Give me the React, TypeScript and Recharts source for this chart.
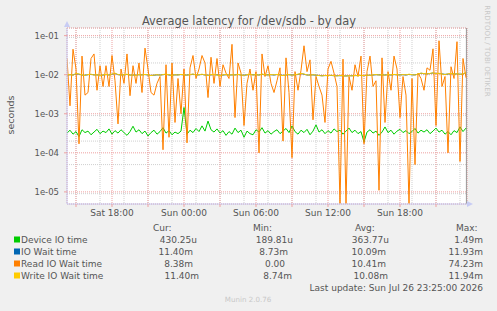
import { LineChart, Line, XAxis, YAxis, CartesianGrid, ReferenceLine } from 'recharts';

// Sat 14:15 .. Sun 23:35, hours counted from Sat 00:00, one sample every 15 min
const START_HOUR = 14.25;
const STEP_HOURS = 0.25;
const END_HOUR = 47.583;
const Y_DOMAIN: [number, number] = [4.9e-6, 0.157];

const DEVICE_IO_TIME = [
  3.2e-4, 3.8e-4, 3.0e-4, 3.5e-4, 2.6e-4, 3.9e-4, 3.3e-4, 3.6e-4, 2.9e-4, 3.4e-4,
  4.0e-4, 3.1e-4, 3.6e-4, 3.3e-4, 4.1e-4, 3.0e-4, 3.7e-4, 3.2e-4, 3.9e-4, 3.3e-4,
  2.8e-4, 3.5e-4, 4.8e-4, 3.4e-4, 3.9e-4, 3.1e-4, 3.6e-4, 2.7e-4, 3.3e-4, 3.8e-4,
  3.0e-4, 3.5e-4, 4.4e-4, 3.2e-4, 3.7e-4, 2.9e-4, 3.4e-4, 3.1e-4, 3.6e-4, 1.45e-3,
  3.0e-4, 3.8e-4, 3.3e-4, 4.2e-4, 3.5e-4, 4.9e-4, 3.6e-4, 6.5e-4, 3.9e-4, 3.4e-4,
  4.1e-4, 3.2e-4, 3.7e-4, 2.8e-4, 3.5e-4, 3.0e-4, 4.3e-4, 3.3e-4, 3.8e-4, 2.5e-4,
  3.6e-4, 3.1e-4, 2.9e-4, 3.9e-4, 3.4e-4, 4.4e-4, 3.2e-4, 3.7e-4, 3.0e-4, 3.5e-4,
  3.9e-4, 3.1e-4, 3.6e-4, 4.2e-4, 3.3e-4, 4.9e-4, 3.5e-4, 3.0e-4, 3.8e-4, 3.3e-4,
  4.0e-4, 2.9e-4, 3.6e-4, 5.2e-4, 3.4e-4, 3.9e-4, 3.1e-4, 3.7e-4, 3.2e-4, 4.1e-4,
  3.5e-4, 3.8e-4, 3.0e-4, 3.6e-4, 4.3e-4, 3.3e-4, 3.8e-4, 3.1e-4, 3.5e-4, 1.9e-4,
  3.4e-4, 3.9e-4, 3.2e-4, 3.6e-4, 2.8e-4, 3.4e-4, 4.6e-4, 3.3e-4, 3.8e-4, 3.0e-4,
  3.6e-4, 4.0e-4, 3.3e-4, 3.7e-4, 3.1e-4, 3.5e-4, 4.2e-4, 3.2e-4, 3.8e-4, 3.4e-4,
  3.9e-4, 3.1e-4, 3.6e-4, 4.3e-4, 3.4e-4, 3.8e-4, 3.0e-4, 3.5e-4, 2.9e-4, 3.7e-4,
  3.3e-4, 4.6e-4, 3.5e-4, 4.3e-4,
];

const IO_WAIT_TIME = [
  0.0097, 0.0100, 0.0098, 0.0106, 0.0103, 0.0098, 0.0097, 0.0100, 0.0102, 0.0099,
  0.0099, 0.0096, 0.0098, 0.0101, 0.0098, 0.0103, 0.0108, 0.0100, 0.0099, 0.0099,
  0.0102, 0.0098, 0.0098, 0.0097, 0.0100, 0.0099, 0.0101, 0.0098, 0.0096, 0.0097,
  0.0099, 0.0098, 0.0100, 0.0103, 0.0098, 0.0097, 0.0099, 0.0099, 0.0101, 0.0098,
  0.0098, 0.0100, 0.0103, 0.0099, 0.0099, 0.0102, 0.0098, 0.0097, 0.0099, 0.0101,
  0.0099, 0.0096, 0.0098, 0.0100, 0.0098, 0.0099, 0.0099, 0.0101, 0.0098, 0.0097,
  0.0099, 0.0102, 0.0099, 0.0100, 0.0098, 0.0103, 0.0099, 0.0099, 0.0100, 0.0098,
  0.0101, 0.0099, 0.0096, 0.0098, 0.0100, 0.0098, 0.0099, 0.0102, 0.0107, 0.0103,
  0.0098, 0.0098, 0.0099, 0.0097, 0.0096, 0.0094, 0.0095, 0.0095, 0.0096, 0.0094,
  0.0094, 0.0095, 0.0093, 0.0093, 0.0094, 0.0094, 0.0095, 0.0095, 0.0096, 0.0094,
  0.0097, 0.0097, 0.0098, 0.0100, 0.0099, 0.0099, 0.0098, 0.0100, 0.0098, 0.0101,
  0.0099, 0.0099, 0.0100, 0.0098, 0.0102, 0.0099, 0.0099, 0.0103, 0.0109, 0.0106,
  0.0105, 0.0107, 0.0111, 0.0107, 0.0108, 0.0105, 0.0102, 0.0104, 0.0107, 0.0104,
  0.0105, 0.0103, 0.0104, 0.0114,
];

const READ_IO_WAIT_TIME = [
  0.026, 0.0016, 0.045, 0.014, 1.7e-4, 0.03, 0.003, 0.0035, 0.026, 0.034,
  0.004, 0.017, 0.005, 0.017, 0.005, 0.031, 0.007, 5.5e-4, 0.014, 0.006,
  0.034, 0.0029, 0.017, 0.006, 0.02, 0.0035, 0.048, 0.014, 0.0035, 0.003,
  0.006, 0.009, 1.2e-4, 0.018, 2.5e-4, 0.02, 6e-4, 0.008, 1e-3, 0.014,
  1.8e-4, 0.015, 0.031, 0.008, 0.014, 0.031, 0.02, 0.0026, 0.028, 0.006,
  0.026, 0.005, 0.018, 0.011, 0.008, 0.06, 8e-4, 0.02, 0.011, 5e-4,
  0.006, 0.014, 0.004, 0.012, 1e-4, 0.034, 0.009, 0.017, 0.006, 0.0035,
  0.007, 0.015, 2e-4, 0.027, 0.0035, 7.5e-5, 0.012, 0.004, 0.013, 0.055,
  0.012, 0.024, 7e-4, 0.009, 0.005, 0.003, 6e-4, 0.014, 0.022, 0.011,
  0.005, 5e-6, 0.025, 5e-6, 0.009, 0.004, 0.018, 0.009, 0.03, 1.7e-4,
  0.012, 0.03, 0.005, 0.007, 1.1e-5, 0.027, 6e-4, 0.012, 0.004, 0.03,
  0.014, 8e-4, 0.009, 0.003, 5e-6, 0.008, 5e-5, 0.011, 0.008, 0.004,
  0.015, 0.013, 0.046, 5e-4, 0.074, 0.005, 0.009, 1e-4, 0.016, 0.008,
  0.07, 6e-5, 0.026, 0.0084,
];

const WRITE_IO_WAIT_TIME = [
  0.0098, 0.0101, 0.0097, 0.0108, 0.0104, 0.0099, 0.0096, 0.0101, 0.0103, 0.0098,
  0.0100, 0.0095, 0.0099, 0.0102, 0.0097, 0.0104, 0.0110, 0.0101, 0.0098, 0.0100,
  0.0103, 0.0097, 0.0099, 0.0096, 0.0101, 0.0098, 0.0102, 0.0099, 0.0095, 0.0098,
  0.0100, 0.0097, 0.0101, 0.0104, 0.0099, 0.0096, 0.0100, 0.0098, 0.0102, 0.0099,
  0.0097, 0.0101, 0.0104, 0.0098, 0.0100, 0.0103, 0.0099, 0.0096, 0.0100, 0.0102,
  0.0098, 0.0095, 0.0099, 0.0101, 0.0097, 0.0100, 0.0098, 0.0102, 0.0099, 0.0096,
  0.0100, 0.0103, 0.0098, 0.0101, 0.0097, 0.0104, 0.0100, 0.0098, 0.0101, 0.0099,
  0.0102, 0.0098, 0.0095, 0.0099, 0.0101, 0.0097, 0.0100, 0.0103, 0.0108, 0.0104,
  0.0099, 0.0097, 0.0100, 0.0098, 0.0095, 0.0093, 0.0096, 0.0094, 0.0097, 0.0095,
  0.0093, 0.0096, 0.0094, 0.0092, 0.0095, 0.0093, 0.0096, 0.0094, 0.0097, 0.0095,
  0.0098, 0.0096, 0.0099, 0.0101, 0.0098, 0.0100, 0.0097, 0.0101, 0.0099, 0.0102,
  0.0100, 0.0098, 0.0101, 0.0099, 0.0103, 0.0100, 0.0098, 0.0104, 0.0110, 0.0107,
  0.0104, 0.0108, 0.0112, 0.0106, 0.0109, 0.0104, 0.0101, 0.0105, 0.0108, 0.0103,
  0.0106, 0.0102, 0.0105, 0.0114,
];

// axis ticks
const MAJOR_HOURS = [15, 18, 21, 24, 27, 30, 33, 36, 39, 42, 45];
const MINOR_HOURS = [
  15, 16, 17, 18, 19, 20, 21, 22, 23, 24, 25, 26, 27, 28, 29, 30, 31,
  32, 33, 34, 35, 36, 37, 38, 39, 40, 41, 42, 43, 44, 45, 46, 47,
];
const TICK_LABELS: Record<number, string> = {
  18: 'Sat 18:00',
  24: 'Sun 00:00',
  30: 'Sun 06:00',
  36: 'Sun 12:00',
  42: 'Sun 18:00',
};
const DECADES = [1e-5, 1e-4, 1e-3, 1e-2, 1e-1];
const MINOR_STEPS = [2, 3, 4, 5, 6, 7, 8, 9];
const MINOR_VALUES = [1e-6, ...DECADES]
  .flatMap((d) => MINOR_STEPS.map((m) => m * d))
  .filter((v) => v > Y_DOMAIN[0] && v < Y_DOMAIN[1]);

const LEGEND_HEADERS = ['Cur:', 'Min:', 'Avg:', 'Max:'];
const LEGEND_ROWS = [
  { name: 'Device IO time', color: '#00CC00', values: ['430.25u', '189.81u', '363.77u', '1.49m'] },
  { name: 'IO Wait time', color: '#0066B3', values: ['11.40m', '8.73m', '10.09m', '11.93m'] },
  { name: 'Read IO Wait time', color: '#FF8000', values: ['8.38m', '0.00', '10.41m', '74.23m'] },
  { name: 'Write IO Wait time', color: '#FFCC00', values: ['11.40m', '8.74m', '10.08m', '11.94m'] },
];
const LAST_UPDATE = 'Last update: Sun Jul 26 23:25:00 2026';

// legend layout (rrdtool pads with spaces, so columns are not quite aligned)
const HEADER_X = [153, 253, 355, 456];
const VALUE_RIGHT_X = [
  [197, 293, 389, 483],
  [193, 288, 386, 483],
  [193, 285, 386, 483],
  [199, 292, 388, 483],
];

const FONT = '"DejaVu Sans", Verdana, sans-serif';
const TEXT = '#555';
const MGRID = '#eea0a0';
const GRID = '#cfcfcf';
const AXIS = '#c8ccf4';

function expLabel(v: number) {
  const e = Math.round(Math.log10(v));
  return `1e${e < 0 ? '-' : '+'}${String(Math.abs(e)).padStart(2, '0')}`;
}

export default function App() {
  const data = DEVICE_IO_TIME.map((v, i) => ({
    t: START_HOUR + i * STEP_HOURS,
    device: v,
    ioWait: IO_WAIT_TIME[i],
    read: READ_IO_WAIT_TIME[i],
    write: WRITE_IO_WAIT_TIME[i],
  }));

  return (
    <div style={{ position: 'relative', width: 497, height: 311, background: '#f0f0f0', fontFamily: FONT }}>
      <style>{'body{margin:0}'}</style>
      <LineChart
        width={497}
        height={311}
        data={data}
        margin={{ top: 28, right: 30, bottom: 87, left: 0 }}
        style={{ fontFamily: FONT }}
      >
        <CartesianGrid xAxisId="minor" yAxisId="minor" fill="#fff" stroke={GRID} strokeDasharray="1 1" />
        <CartesianGrid stroke={MGRID} strokeDasharray="1 1" />
        <XAxis
          xAxisId="minor"
          dataKey="t"
          type="number"
          domain={[START_HOUR, END_HOUR]}
          ticks={MINOR_HOURS}
          allowDataOverflow
          hide
        />
        <YAxis yAxisId="minor" scale="log" domain={Y_DOMAIN} ticks={MINOR_VALUES} allowDataOverflow hide />
        <XAxis
          dataKey="t"
          type="number"
          domain={[START_HOUR, END_HOUR]}
          ticks={MAJOR_HOURS}
          interval={0}
          tickFormatter={(v: number) => TICK_LABELS[v] ?? ''}
          height={20}
          tickSize={3}
          tickMargin={3}
          axisLine={{ stroke: AXIS }}
          tickLine={{ stroke: MGRID }}
          tick={{ fontSize: 9, fill: TEXT }}
          allowDataOverflow
        />
        <YAxis
          width={67}
          scale="log"
          domain={Y_DOMAIN}
          ticks={DECADES}
          interval={0}
          tickFormatter={expLabel}
          tickSize={3}
          tickMargin={5}
          axisLine={{ stroke: AXIS }}
          tickLine={{ stroke: MGRID }}
          tick={{ fontSize: 8.5, fill: TEXT }}
          allowDataOverflow
        />
        <ReferenceLine x={END_HOUR - 0.05} stroke="#999" />
        <Line dataKey="device" stroke="#00CC00" strokeWidth={1} dot={false} isAnimationActive={false} />
        <Line dataKey="ioWait" stroke="#0066B3" strokeWidth={1} dot={false} isAnimationActive={false} />
        <Line dataKey="read" stroke="#FF8000" strokeWidth={1} dot={false} isAnimationActive={false} />
        <Line dataKey="write" stroke="#FFCC00" strokeWidth={1} dot={false} isAnimationActive={false} />
      </LineChart>

      <svg
        width={497}
        height={311}
        style={{ position: 'absolute', left: 0, top: 0, pointerEvents: 'none', fontFamily: FONT }}
      >
        <text x={249} y={25} textAnchor="middle" fontSize={11.4} fill={TEXT}>
          Average latency for /dev/sdb - by day
        </text>
        <text transform="translate(14,115) rotate(-90)" textAnchor="middle" fontSize={9.5} fill={TEXT}>
          seconds
        </text>
        <text transform="translate(485,51) rotate(90)" textAnchor="middle" fontSize={7.1} fill="#c8c8c8">
          RRDTOOL / TOBI OETIKER
        </text>
        {/* axis arrows */}
        <polygon points="64,27 70,27 67,21" fill={AXIS} />
        <polygon points="467,201 467,207 473,204" fill={AXIS} />

        {LEGEND_HEADERS.map((h, c) => (
          <text key={h} x={HEADER_X[c]} y={231} fontSize={9} fill={TEXT}>
            {h}
          </text>
        ))}
        {LEGEND_ROWS.map((row, r) => (
          <g key={row.name}>
            <rect x={14} y={236.5 + r * 12} width={6} height={6} fill={row.color} />
            <text x={21} y={242.7 + r * 12} fontSize={9} fill={TEXT}>
              {row.name}
            </text>
            {row.values.map((v, c) => (
              <text key={c} x={VALUE_RIGHT_X[r][c]} y={242.7 + r * 12} textAnchor="end" fontSize={9} fill={TEXT}>
                {v}
              </text>
            ))}
          </g>
        ))}
        <text x={483} y={291} textAnchor="end" fontSize={9} fill={TEXT}>
          {LAST_UPDATE}
        </text>
        <text x={248} y={302} textAnchor="middle" fontSize={7.1} fill="#c8c8c8">
          Munin 2.0.76
        </text>
      </svg>
    </div>
  );
}
